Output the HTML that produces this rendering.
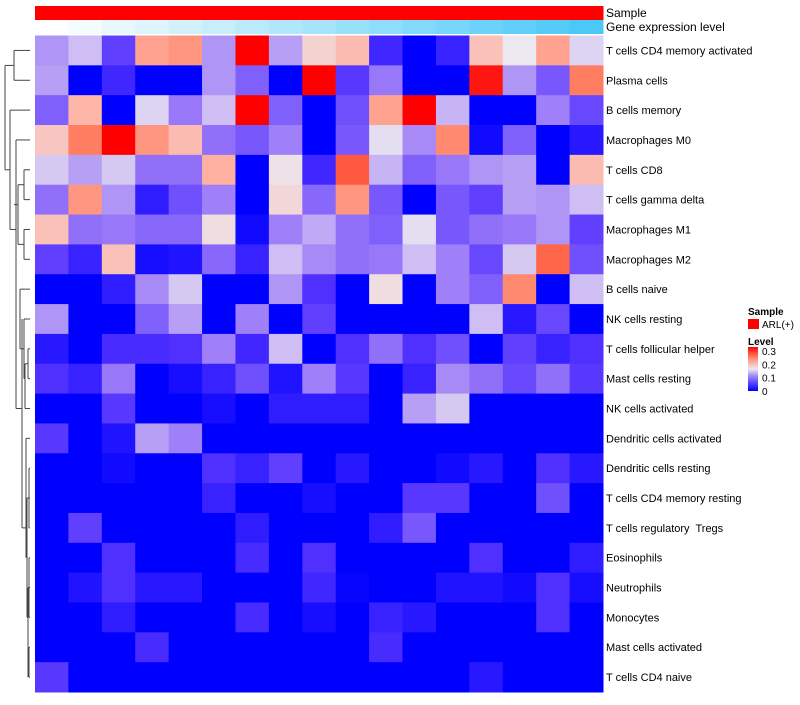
<!DOCTYPE html>
<html><head><meta charset="utf-8"><style>
body{margin:0;background:#fff;font-family:"Liberation Sans",sans-serif}
svg text{font-family:"Liberation Sans",sans-serif;white-space:pre}
</style></head><body>
<svg id="chart" width="800" height="700" xmlns="http://www.w3.org/2000/svg">
<g id="dendro" stroke="#444" stroke-width="1" fill="none"></g>
<g id="annot"></g>
<g id="cells"></g>
<g id="labels"></g>
<text x="606" y="17" font-size="12">Sample</text>
<text x="606" y="31" font-size="12">Gene expression level</text>
<g>
<text x="748" y="315" font-size="10" font-weight="bold">Sample</text>
<rect x="748" y="319" width="11" height="10" fill="#ff0000"/>
<text x="762" y="328" font-size="10">ARL(+)</text>
<text x="748" y="345" font-size="10" font-weight="bold">Level</text>
<defs><linearGradient id="lg" x1="0" y1="1" x2="0" y2="0"><stop offset="0" stop-color="#0000ff"/><stop offset="0.33" stop-color="#a080f8"/><stop offset="0.5" stop-color="#ece8f0"/><stop offset="0.75" stop-color="#ff8a70"/><stop offset="1" stop-color="#ff0000"/></linearGradient></defs>
<rect x="748" y="347" width="10" height="44" fill="url(#lg)"/>
<g id="legticks"></g>
</g>
</svg>
<script>
const rowNames=["T cells CD4 memory activated","Plasma cells","B cells memory","Macrophages M0","T cells CD8","T cells gamma delta","Macrophages M1","Macrophages M2","B cells naive","NK cells resting","T cells follicular helper","Mast cells resting","NK cells activated","Dendritic cells activated","Dendritic cells resting","T cells CD4 memory resting","T cells regulatory  Tregs","Eosinophils","Neutrophils","Monocytes","Mast cells activated","T cells CD4 naive"];
const r1=[0.11,0.13,0.06,0.21,0.22,0.11,0.3,0.115,0.17,0.19,0.04,0,0.035,0.185,0.15,0.21,0.14];
const r2=[0.115,0,0.04,0,0,0.11,0.08,0,0.3,0.055,0.095,0,0,0.29,0.11,0.075,0.24];
const r3=[0.08,0.195,0,0.14,0.095,0.13,0.3,0.08,0,0.07,0.21,0.3,0.125,0,0,0.1,0.065];
const r4=[0.18,0.24,0.3,0.22,0.19,0.09,0.075,0.1,0,0.075,0.145,0.105,0.23,0.01,0.08,0,0.025];
const r5=[0.135,0.115,0.135,0.09,0.09,0.2,0,0.155,0.04,0.26,0.125,0.08,0.095,0.11,0.115,0,0.19];
const r6=[0.09,0.22,0.11,0.03,0.07,0.1,0,0.165,0.085,0.22,0.075,0,0.075,0.06,0.115,0.11,0.13];
const r7=[0.185,0.09,0.095,0.085,0.085,0.16,0.01,0.1,0.12,0.09,0.08,0.145,0.075,0.09,0.095,0.11,0.06];
const r8=[0.06,0.035,0.185,0.015,0.02,0.085,0.035,0.13,0.105,0.09,0.095,0.13,0.1,0.065,0.135,0.255,0.07];
const r9=[0,0,0.03,0.105,0.135,0,0,0.11,0.05,0,0.16,0,0.1,0.08,0.23,0,0.13];
const r10=[0.11,0,0,0.08,0.115,0,0.1,0,0.06,0,0,0,0,0.13,0.025,0.065,0];
const r11=[0.025,0,0.045,0.045,0.05,0.1,0.04,0.13,0,0.05,0.09,0.05,0.07,0,0.06,0.035,0.05];
const r12=[0.05,0.035,0.095,0,0.015,0.035,0.07,0.02,0.1,0.055,0,0.035,0.105,0.09,0.065,0.09,0.055];
const r13=[0,0,0.055,0,0,0.015,0,0.03,0.03,0.03,0,0.115,0.135,0,0,0,0];
const r14=[0.055,0,0.02,0.115,0.1,0,0,0,0,0,0,0,0,0,0,0,0];
const r15=[0,0,0.01,0,0,0.05,0.035,0.06,0,0.025,0,0,0.01,0.025,0,0.05,0.025];
const r16=[0,0,0,0,0,0.035,0,0,0.015,0,0,0.055,0.055,0,0,0.07,0];
const r17=[0,0.06,0,0,0,0,0.03,0,0,0,0.03,0.075,0,0,0,0,0];
const r18=[0,0,0.05,0,0,0,0.045,0,0.05,0,0,0,0,0.05,0,0,0.03];
const r19=[0,0.02,0.05,0.025,0.025,0,0,0,0.04,0.005,0,0,0.02,0.02,0.01,0.05,0.015];
const r20=[0,0,0.03,0,0,0,0.045,0,0.015,0,0.035,0.025,0,0,0,0.05,0];
const r21=[0,0,0,0.045,0,0,0,0,0,0,0.045,0,0,0,0,0,0];
const r22=[0.055,0,0,0,0,0,0,0,0,0,0,0,0,0.025,0,0,0];
const values=[r1,r2,r3,r4,r5,r6,r7,r8,r9,r10,r11,r12,r13,r14,r15,r16,r17,r18,r19,r20,r21,r22];
const legendTicks=[0,0.1,0.2,0.3];
const NS="http://www.w3.org/2000/svg";
const X0=35,X1=603,Y0=35.5,Y1=692,nC=17,nR=rowNames.length;
const cw=(X1-X0)/nC,rh=(Y1-Y0)/nR;
const xS=i=>X0+i*cw, yS=j=>Y0+j*rh;
const stops=[[0,[0,0,255]],[0.05,[80,48,255]],[0.1,[160,128,248]],[0.15,[236,232,240]],[0.2,[255,176,160]],[0.25,[255,112,80]],[0.3,[255,0,0]]];
function col(v){v=Math.max(0,Math.min(0.3,v));for(let k=1;k<stops.length;k++){if(v<=stops[k][0]){const a=stops[k-1],b=stops[k],t=(v-a[0])/(b[0]-a[0]);return "rgb("+a[1].map((c,i)=>Math.round(c+(b[1][i]-c)*t)).join(",")+")";}}return "rgb(255,0,0)";}
function mk(tag,attrs,parent){const e=document.createElementNS(NS,tag);for(const k in attrs)e.setAttribute(k,attrs[k]);parent.appendChild(e);return e;}
const cells=document.getElementById('cells');
values.forEach((row,j)=>row.forEach((v,i)=>{
 const r=mk('rect',{x:xS(i),y:yS(j),width:cw+0.5,height:rh+0.5,fill:col(v)},cells);
 
 
}));
const labels=document.getElementById('labels');
rowNames.forEach((n,j)=>{
 const t=mk('text',{x:606,y:yS(j)+rh/2+4,'font-size':11},labels);t.textContent=n;
 
 
});
const annot=document.getElementById('annot');
for(let i=0;i<nC;i++){
 const a=mk('rect',{x:xS(i),y:6,width:cw+0.5,height:14,fill:'#ff0000'},annot);
 
 
 const t=i/(nC-1);
 const g=mk('rect',{x:xS(i),y:20,width:cw+0.5,height:14,fill:`rgb(${Math.round(255-181*t)},${Math.round(255-55*t)},${Math.round(255-7*t)})`},annot);
 
 
}
const lt=document.getElementById('legticks');
legendTicks.forEach(v=>{
 const y=391-v/0.3*40;
 const t=mk('text',{x:762,y:y+4,'font-size':10},lt);t.textContent=v;
 
 
});
const d=document.getElementById('dendro');
const cy=j=>yS(j)+rh/2;
const segs=[
 [30,cy(0),14,cy(0)],[30,cy(1),14,cy(1)],[14,cy(0),14,cy(1)],
 [30,cy(2),10,cy(2)],[30,cy(3),16,cy(3)],[30,cy(4),24,cy(4)],[30,cy(5),24,cy(5)],[24,cy(4),24,cy(5)],
 [24,(cy(4)+cy(5))/2,18,(cy(4)+cy(5))/2],
 [30,cy(6),24,cy(6)],[30,cy(7),24,cy(7)],[24,cy(6),24,cy(7)],[24,(cy(6)+cy(7))/2,18,(cy(6)+cy(7))/2],
 [18,(cy(4)+cy(5))/2,18,(cy(6)+cy(7))/2],[18,cy(5)+5,14,cy(5)+5],
 [30,cy(8),20,cy(8)],[30,cy(9),24,cy(9)],[30,cy(10),28,cy(10)],[30,cy(11),28,cy(11)],[28,cy(10),28,cy(11)],
 [28,(cy(10)+cy(11))/2,25,(cy(10)+cy(11))/2],[30,cy(12),25,cy(12)],[25,(cy(10)+cy(11))/2,25,cy(12)],
 [25,cy(11),24,cy(11)],[24,cy(9),24,cy(11)],[24,cy(10),20,cy(10)],[20,cy(8),20,cy(10)],
 [30,cy(13),26,cy(13)],[30,cy(14),29,cy(14)],[30,cy(15),29,cy(15)],[29,cy(14),29,cy(15)],
 [30,cy(16),29,cy(16)],[29,cy(15),29,cy(16)],[29,cy(15),27,cy(15)],
 [30,cy(17),29,cy(17)],[30,cy(18),29,cy(18)],[29,cy(17),29,cy(18)],[30,cy(19),29,cy(19)],[29,cy(18),29,cy(19)],
 [30,cy(20),29,cy(20)],[30,cy(21),29,cy(21)],[29,cy(20),29,cy(21)],[29,cy(18),28,cy(18)],[28,cy(18),28,cy(21)],
 [28,cy(19),27,cy(19)],[27,cy(15),27,cy(19)],[26,cy(13),26,cy(17)],[26,cy(16),22,cy(16)],
 [22,cy(9),22,cy(16)],[22,cy(12),16,cy(12)],[16,cy(3),16,cy(12)],[16,cy(6),10,cy(6)],
 [10,cy(2),10,cy(6)],[10,cy(4),5,cy(4)],[14,cy(0)+15,5,cy(0)+15],[5,cy(0)+15,5,cy(4)]
];
segs.forEach(s=>{const l=mk('line',{x1:s[0],y1:s[1],x2:s[2],y2:s[3]},d);
 
 });
</script>
</body></html>
